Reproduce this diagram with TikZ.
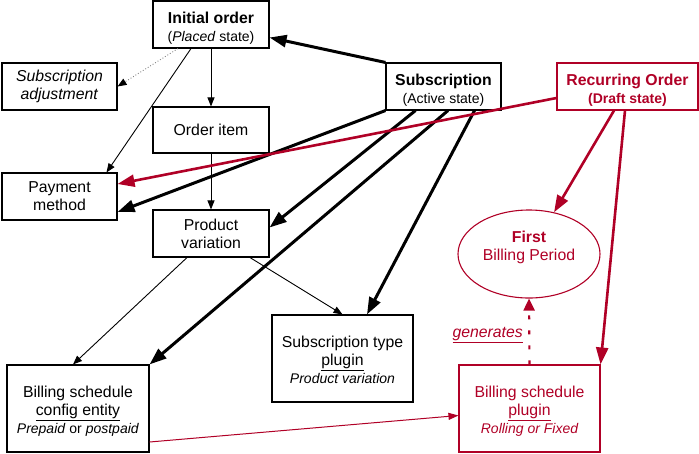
\documentclass[tikz,border=0pt]{standalone}
\usepackage{fontspec}
\setmainfont{Liberation Sans}
\usetikzlibrary{arrows.meta,shapes.geometric}
\definecolor{rred}{RGB}{176,0,38}
\newcommand\smallln{\fontsize{14}{18}\selectfont}
\newcommand\topstrut[1]{\rule{0pt}{#1}}
\newcommand\botstrut[1]{\rule[-#1]{0pt}{#1}}
\begin{document}
\begin{tikzpicture}[x=1pt,y=-1pt,
  box/.style={draw, line width=1.1pt, align=center, inner sep=2pt, font=\fontsize{15.8}{18}\selectfont},
  redbox/.style={box, draw=rred, text=rred},
  thickarr/.style={line width=3pt, -{Triangle[length=17pt,width=12pt]}},
  thinarr/.style={line width=0.9pt, -{Triangle[length=9pt,width=7pt]}},
  redthick/.style={rred, line width=2.6pt, -{Triangle[length=17pt,width=12pt]}},
  redthin/.style={rred, line width=1pt, -{Triangle[length=10pt,width=7pt]}},
]
\useasboundingbox (0,0) rectangle (699,453);

\node[box, minimum width=116pt, minimum height=47pt] (init) at (211,24.5)
  {\topstrut{19pt}\textbf{Initial order}\\{\smallln(\textit{Placed} state)}};
\node[box, minimum width=115pt, minimum height=47pt] (adj) at (59.5,86.5)
  {\textit{Subscription}\\\textit{adjustment}};
\node[box, minimum width=116pt, minimum height=46pt] (item) at (211,130)
  {Order item};
\node[box, minimum width=115pt, minimum height=47pt] (pay) at (59.5,196.5)
  {Payment\\method};
\node[box, minimum width=116pt, minimum height=47pt] (prod) at (211,233.5)
  {Product\\variation};
\node[box, minimum width=115pt, minimum height=47pt] (sub) at (443.5,86.5)
  {\topstrut{19pt}\textbf{Subscription}\\{\smallln(Active state)}};
\node[redbox, minimum width=141pt, minimum height=47pt] (rec) at (627.5,86.5)
  {\topstrut{19pt}\textbf{Recurring Order}\\{\smallln\bfseries(Draft state)}};
\node[ellipse, draw=rred, text=rred, line width=1.1pt, minimum width=142pt, minimum height=88pt,
  inner sep=0pt, align=center, font=\fontsize{15.8}{18}\selectfont] (first) at (529,254)
  {\textbf{First}\\Billing Period\botstrut{16pt}};
\node[box, minimum width=141pt, minimum height=87pt] (stype) at (342.5,358.5)
  {\topstrut{14pt}Subscription type\\\underline{plugin}\\{\smallln\itshape Product variation}};
\node[box, minimum width=142pt, minimum height=87pt] (bconf) at (78,408.5)
  {\topstrut{17pt}Billing schedule\\\underline{config entity}\\{\smallln\textit{Prepaid} or \textit{postpaid}}};
\node[redbox, minimum width=141pt, minimum height=87pt] (bplug) at (529.5,408.5)
  {\topstrut{17pt}Billing schedule\\\underline{plugin}\\{\smallln\itshape Rolling or Fixed}};

% black connectors
\draw[thickarr] (sub.north west) -- ([yshift=-13pt]init.east);
\draw[gray, line width=0.9pt, dotted, -{Triangle[length=9pt,width=7pt,color=black]}]
  ([xshift=-33pt]init.south) -- (adj.east);
\draw[thinarr] ([xshift=-20pt]init.south) -- ([xshift=47pt]pay.north);
\draw[thinarr] (init.south) -- (item.north);
\draw[thinarr] (item.south) -- (prod.north);
\draw[thickarr] (sub.south west) -- ([yshift=-15.5pt]pay.east);
\draw[thickarr] ([xshift=-28pt]sub.south) -- ([yshift=6pt]prod.east);
\draw[thickarr] ([xshift=4.5pt]sub.south) -- (bconf.north east);
\draw[thickarr] ([xshift=31pt]sub.south) -- ([xshift=24.5pt]stype.north);
\draw[thinarr] ([xshift=-24pt]prod.south) -- ([xshift=-5pt]bconf.north);
\draw[thinarr] ([xshift=39pt]prod.south) -- (stype.north);

% red connectors
\draw[redthick] ([yshift=-11.5pt]rec.west) -- ([yshift=12.5pt]pay.east);
\draw[redthick] ([xshift=-13.5pt]rec.south) -- (first.59);
\draw[redthick] ([xshift=-2.5pt]rec.south) -- (bplug.north east);
\draw[redthin] ([yshift=-33.5pt]bconf.east) -- ([yshift=-7pt]bplug.west);
\draw[rred, line width=2.2pt, dash pattern=on 4pt off 11pt, -{Triangle[length=12pt,width=11pt]}]
  (bplug.north) -- (first.south)
  node[midway, left, xshift=-2pt, yshift=-4pt, text=rred, font=\fontsize{15.8}{18}\selectfont] (gen) {\underline{\textit{generates}}};
\end{tikzpicture}
\end{document}
